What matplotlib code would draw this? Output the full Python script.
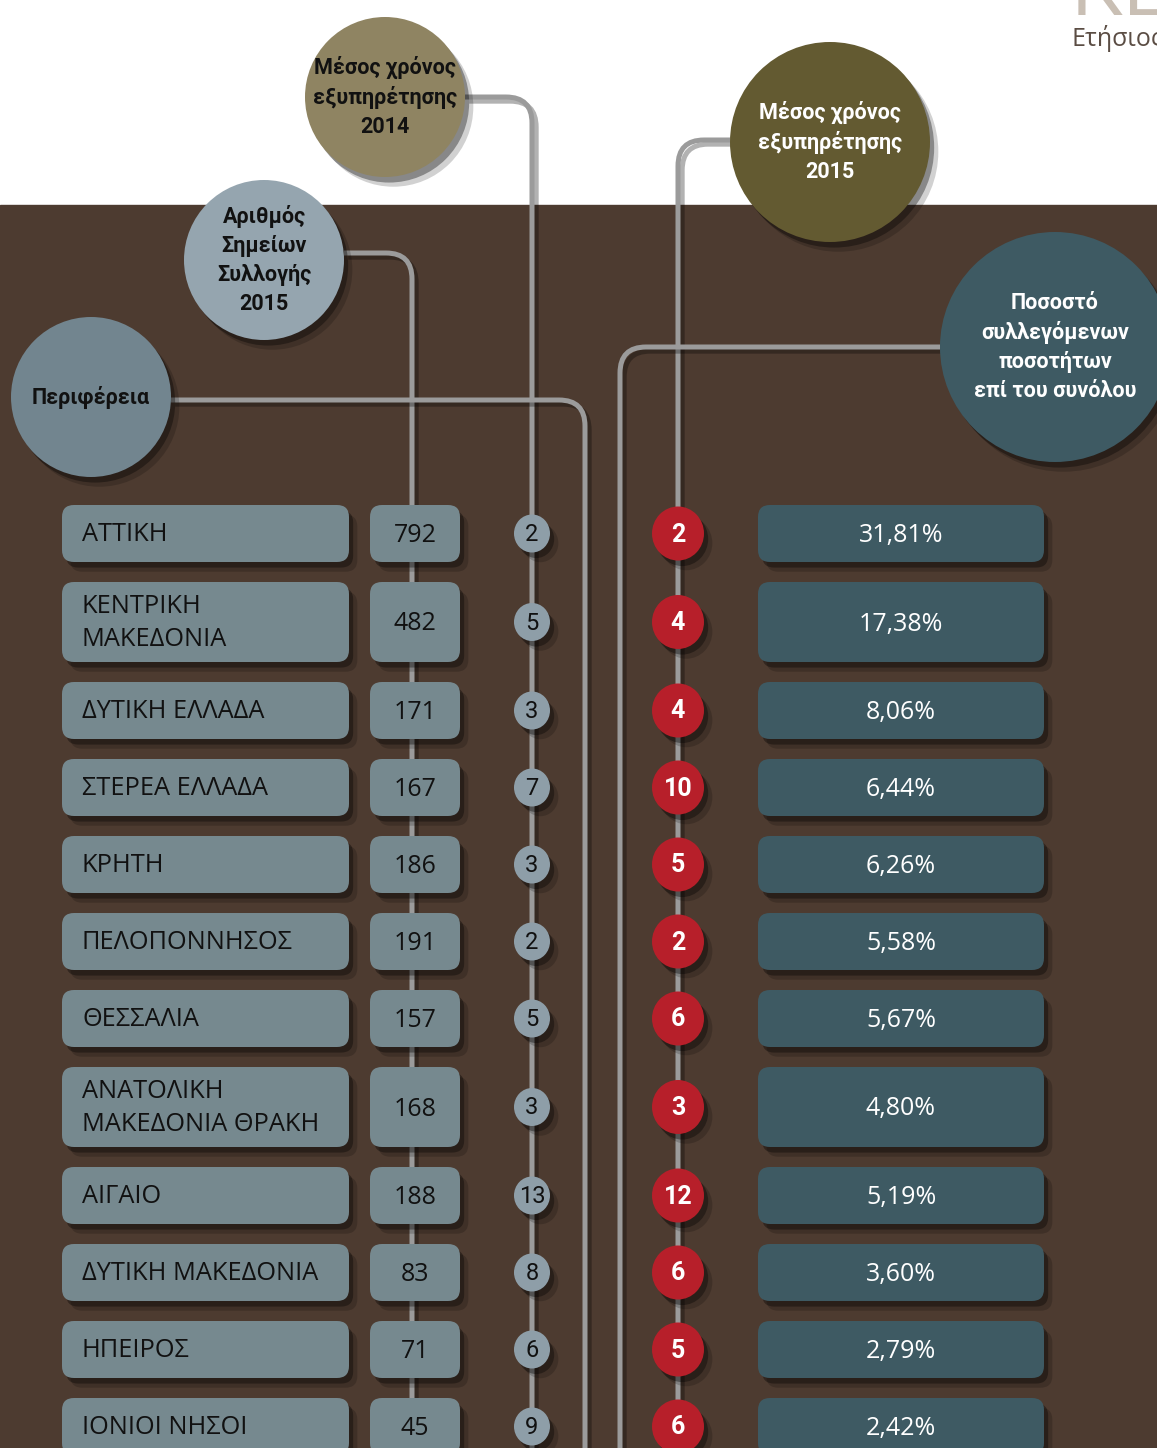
import matplotlib
matplotlib.use('Agg')
import matplotlib.pyplot as plt
from matplotlib.patches import FancyBboxPatch, Ellipse, Rectangle, PathPatch
from matplotlib.path import Path
import matplotlib.patheffects as pe

plt.rcParams['font.family'] = ['Open Sans', 'DejaVu Sans']

# data
regions = ['ΑΤΤΙΚΗ', 'ΚΕΝΤΡΙΚΗ\nΜΑΚΕΔΟΝΙΑ', 'ΔΥΤΙΚΗ ΕΛΛΑΔΑ', 'ΣΤΕΡΕΑ ΕΛΛΑΔΑ', 'ΚΡΗΤΗ',
           'ΠΕΛΟΠΟΝΝΗΣΟΣ', 'ΘΕΣΣΑΛΙΑ', 'ΑΝΑΤΟΛΙΚΗ\nΜΑΚΕΔΟΝΙΑ ΘΡΑΚΗ', 'ΑΙΓΑΙΟ',
           'ΔΥΤΙΚΗ ΜΑΚΕΔΟΝΙΑ', 'ΗΠΕΙΡΟΣ', 'ΙΟΝΙΟΙ ΝΗΣΟΙ']
points_2015 = [792, 482, 171, 167, 186, 191, 157, 168, 188, 83, 71, 45]
time_2014 = [2, 5, 3, 7, 3, 2, 5, 3, 13, 8, 6, 9]
time_2015 = [2, 4, 4, 10, 5, 2, 6, 3, 12, 6, 5, 6]
share_pct = ['31,81%', '17,38%', '8,06%', '6,44%', '6,26%', '5,58%', '5,67%',
             '4,80%', '5,19%', '3,60%', '2,79%', '2,42%']

W, H = 1157, 1448
fig = plt.figure(figsize=(W / 100, H / 100), dpi=100)
ax = fig.add_axes([0, 0, 1, 1])
ax.set_xlim(0, W)
ax.set_ylim(H, 0)
ax.set_aspect('equal')
ax.axis('off')

brown = '#4d3b30'
line_col = '#9b9b9b'
box_grey = '#76898f'
teal = '#3e5a63'
narrow = ['Roboto', 'DejaVu Sans']
shadow = [pe.SimplePatchShadow(offset=(6, -7), shadow_rgbFace='black', alpha=0.18),
          pe.SimplePatchShadow(offset=(3, -4), shadow_rgbFace='black', alpha=0.35),
          pe.Normal()]

ax.add_patch(Rectangle((0, 205), W, H - 205, color=brown, zorder=0))

# header bits top right (cut off by the page edge, as in the source)
ax.text(1070, 15, 'ΚΕΙ', fontsize=62, color='#c9bfb4', ha='left', va='baseline', zorder=1)
ax.text(1071, 46, 'Ετήσιος', fontsize=18, color='#5b4d44', ha='left', va='baseline', zorder=1)


def connector(x0, y0, xc, r=26, left=False):
    sx = 1 if not left else -1
    verts = [(x0, y0), (xc - sx * r, y0), (xc, y0), (xc, y0 + r), (xc, H + 10)]
    codes = [Path.MOVETO, Path.LINETO, Path.CURVE3, Path.CURVE3, Path.LINETO]
    p = PathPatch(Path(verts, codes), fill=False, edgecolor=line_col, lw=3.6, zorder=2,
                  path_effects=[pe.SimpleLineShadow(offset=(3, -3), alpha=0.3), pe.Normal()])
    ax.add_patch(p)


connector(465, 97, 532)
connector(344, 253, 412)
connector(171, 400, 585)
connector(730, 140, 678, left=True)
connector(940, 347, 620, left=True)


def bubble(cx, cy, r, color, text, tcolor, size, ls=1.4):
    ax.add_patch(Ellipse((cx, cy), 2 * r, 2 * r, facecolor=color, edgecolor='none', zorder=5,
                         path_effects=shadow))
    ax.text(cx, cy, text, ha='center', va='center', color=tcolor, fontsize=size,
            fontweight='bold', linespacing=ls, zorder=6, family=narrow)


bubble(385, 97, 80, '#8f8462', 'Μέσος χρόνος\nεξυπηρέτησης\n2014', '#111111', 15.5)
bubble(264, 260, 80, '#95a5af', 'Αριθμός\nΣημείων\nΣυλλογής\n2015', '#111111', 15.5)
bubble(91, 397, 80, '#72858f', 'Περιφέρεια', '#111111', 15.5)
bubble(830, 142, 100, '#635a31', 'Μέσος χρόνος\nεξυπηρέτησης\n2015', 'white', 15.5)
bubble(1055, 347, 115, '#3e5a63', 'Ποσοστό\nσυλλεγόμενων\nποσοτήτων\nεπί του συνόλου', 'white', 15.5)

# rows
y = 505
for i in range(len(regions)):
    nlines = regions[i].count('\n') + 1
    h = 57 if nlines == 1 else 80
    cy = y + h / 2
    style = 'round,pad=0,rounding_size=12'
    ax.add_patch(FancyBboxPatch((62, y), 287, h, boxstyle=style, facecolor=box_grey,
                                edgecolor='none', zorder=5, path_effects=shadow))
    ax.text(82, cy + 1, regions[i], ha='left', va='center', fontsize=18.3, color='#111111',
            linespacing=1.45, zorder=6)
    ax.add_patch(FancyBboxPatch((370, y), 90, h, boxstyle=style, facecolor=box_grey,
                                edgecolor='none', zorder=5, path_effects=shadow))
    ax.text(415, cy + 2, str(points_2015[i]), ha='center', va='center', fontsize=18,
            color='#111111', zorder=6)
    ax.add_patch(Ellipse((532, cy), 36, 38, facecolor='#8e9ea8', edgecolor='none', zorder=5,
                         path_effects=shadow))
    ax.text(532, cy + 1, str(time_2014[i]), ha='center', va='center', fontsize=17,
            color='#111111', zorder=6, family=narrow)
    ax.add_patch(Ellipse((678, cy), 52, 54, facecolor='#b71f2a', edgecolor='none', zorder=5,
                         path_effects=shadow))
    ax.text(678, cy + 1, str(time_2015[i]), ha='center', va='center', fontsize=18,
            fontweight='bold', color='white', zorder=6, family=narrow)
    ax.add_patch(FancyBboxPatch((758, y), 286, h, boxstyle=style, facecolor=teal,
                                edgecolor='none', zorder=5, path_effects=shadow))
    ax.text(901, cy + 2, share_pct[i], ha='center', va='center', fontsize=18,
            color='white', zorder=6)
    y += h + 20

plt.savefig('out.png', dpi=100)
plt.close()
